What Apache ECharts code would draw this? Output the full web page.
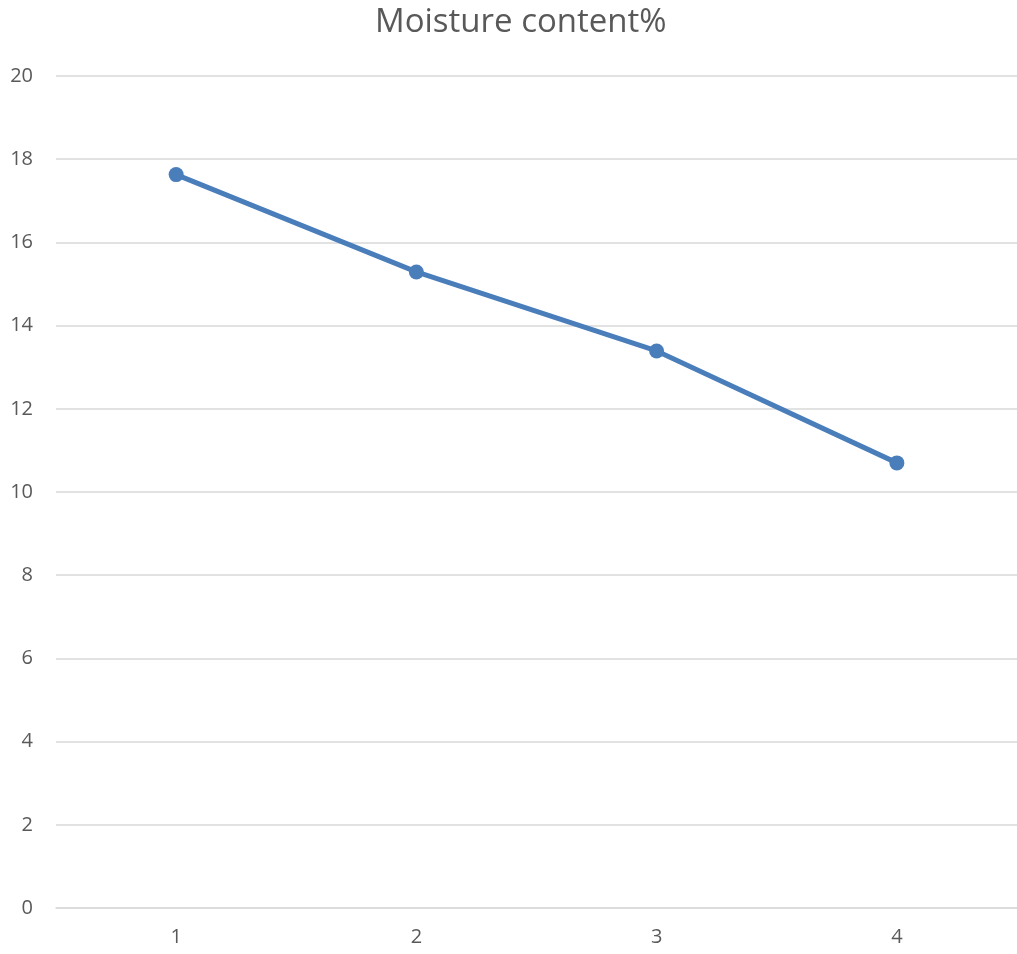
<!DOCTYPE html>
<html><head><meta charset="utf-8">
<script src="https://cdn.jsdelivr.net/npm/echarts@6/dist/echarts.min.js"></script>
<style>html,body{margin:0;padding:0;background:#fff}#c{width:1017px;height:954px}</style>
</head><body><div id="c"></div>
<script>
const categories = ['1', '2', '3', '4'];
const moisture = [17.63, 15.29, 13.39, 10.7];
const yTicks = { min: 0, max: 20, interval: 2 };

const chart = echarts.init(document.getElementById('c'), null, { renderer: 'canvas' });
chart.setOption({
  animation: false,
  backgroundColor: '#fff',
  title: {
    text: 'Moisture content%', left: 375, top: 6, padding: 0,
    textStyle: { fontFamily: 'Open Sans', fontWeight: 'normal', fontSize: 33, color: '#595959' }
  },
  grid: { left: 56, right: 0, top: 76, bottom: 46, containLabel: false },
  xAxis: {
    type: 'category', data: categories, boundaryGap: true,
    axisLine: { show: true, lineStyle: { color: '#d9d9d9', width: 1.5 } },
    axisTick: { show: false },
    axisLabel: { color: '#595959', fontSize: 20, fontFamily: 'Open Sans', margin: 19 }
  },
  yAxis: {
    type: 'value', min: yTicks.min, max: yTicks.max, interval: yTicks.interval,
    axisLine: { show: false }, axisTick: { show: false },
    splitLine: { lineStyle: { color: '#d9d9d9', width: 1.5 } },
    axisLabel: { color: '#595959', fontSize: 20, fontFamily: 'Open Sans', margin: 23 }
  },
  series: [{
    type: 'line', data: moisture,
    lineStyle: { color: '#4a7ebb', width: 5 },
    itemStyle: { color: '#4a7ebb' },
    symbol: 'circle', symbolSize: 15
  }]
});
</script></body></html>
